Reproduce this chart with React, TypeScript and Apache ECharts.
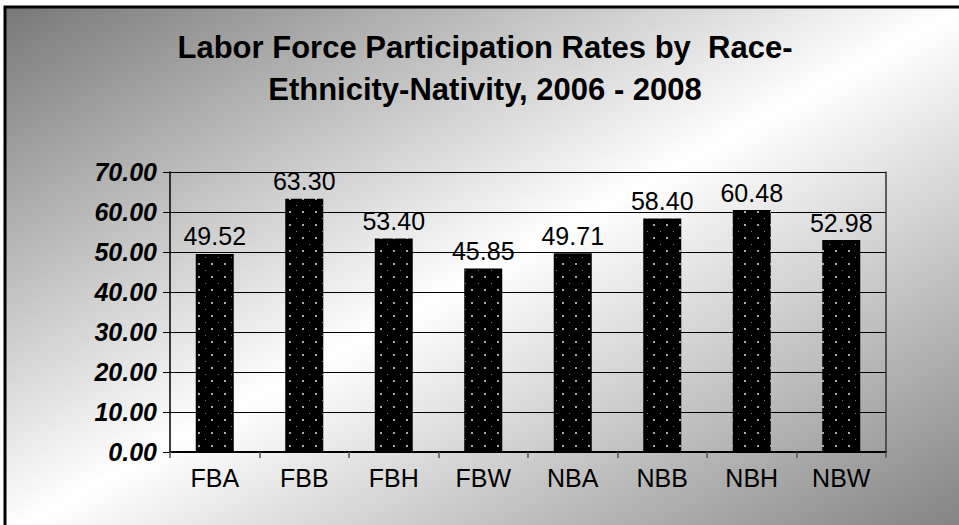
import React, { useEffect, useRef } from "react";
import * as echarts from "echarts";

const categories = ["FBA", "FBB", "FBH", "FBW", "NBA", "NBB", "NBH", "NBW"];
const rates = [49.52, 63.3, 53.4, 45.85, 49.71, 58.4, 60.48, 52.98];
const yTicks = { min: 0, max: 70, interval: 10 };
const titleLines = ["Labor Force Participation Rates by  Race-", "Ethnicity-Nativity, 2006 - 2008"];

const FONT = "'Liberation Sans', Arial, Helvetica, sans-serif";

// Dotted black fill used for the bars
function makeDotPattern(): HTMLCanvasElement {
  const c = document.createElement("canvas");
  c.width = 13;
  c.height = 13;
  const ctx = c.getContext("2d")!;
  ctx.fillStyle = "#000";
  ctx.fillRect(0, 0, 13, 13);
  ctx.fillStyle = "#a8a8a8";
  ctx.fillRect(3, 3, 2, 2);
  ctx.fillStyle = "#808080";
  ctx.fillRect(10, 10, 1, 1);
  return c;
}

export default function App() {
  const ref = useRef<HTMLDivElement>(null);

  useEffect(() => {
    if (!ref.current) return;
    const chart = echarts.init(ref.current, null, { renderer: "svg" });
    const pattern = makeDotPattern();

    chart.setOption({
      animation: false,
      backgroundColor: "#ffffff",
      graphic: [
        {
          type: "rect",
          z: -100,
          silent: true,
          shape: { x: 5, y: 7, width: 962, height: 528 },
          style: {
            fill: new echarts.graphic.LinearGradient(0, 0, 1, 1, [
              { offset: 0, color: "#787878" },
              { offset: 0.5, color: "#ffffff" },
              { offset: 1, color: "#808080" },
            ]),
            stroke: "#000",
            lineWidth: 3,
          },
        },
        {
          type: "text",
          x: 485,
          y: 26,
          z: 10,
          style: {
            text: titleLines.join("\n"),
            textAlign: "center",
            textVerticalAlign: "top",
            font: `bold 31px ${FONT}`,
            lineHeight: 42,
            fill: "#000",
          },
        },
      ],
      grid: { left: 170, right: 73, top: 172, bottom: 73, containLabel: false },
      xAxis: {
        type: "category",
        data: categories,
        axisLine: { show: true, lineStyle: { color: "#000", width: 2 } },
        axisTick: { show: true, length: 6, lineStyle: { color: "#555", width: 1.5 } },
        axisLabel: { color: "#000", fontFamily: FONT, fontSize: 25, margin: 13 },
        splitLine: { show: false },
      },
      yAxis: [
        {
          type: "value",
          min: yTicks.min,
          max: yTicks.max,
          interval: yTicks.interval,
          axisLine: { show: true, lineStyle: { color: "#000", width: 1.5 } },
          axisTick: { show: true, length: 7, lineStyle: { color: "#000" } },
          axisLabel: {
            color: "#000",
            fontFamily: FONT,
            fontSize: 25,
            fontWeight: "bold",
            fontStyle: "italic",
            margin: 13,
            formatter: (v: number) => v.toFixed(2),
          },
          splitLine: { show: true, lineStyle: { color: "#000", width: 1 } },
        },
        {
          type: "value",
          position: "right",
          min: yTicks.min,
          max: yTicks.max,
          interval: yTicks.interval,
          axisLine: { show: true, lineStyle: { color: "#333", width: 1.5 } },
          axisTick: { show: false },
          axisLabel: { show: false },
          splitLine: { show: false },
        },
      ],
      series: [
        {
          type: "bar",
          data: rates,
          barWidth: 38,
          itemStyle: { color: { image: pattern, repeat: "repeat" } },
          label: {
            show: true,
            position: "top",
            distance: 5,
            color: "#000",
            fontFamily: FONT,
            fontSize: 25,
            formatter: (p: any) => Number(p.value).toFixed(2),
          },
        },
      ],
    });

    return () => chart.dispose();
  }, []);

  return (
    <div
      ref={ref}
      style={{ position: "absolute", left: 0, top: 0, width: 959, height: 525 }}
    />
  );
}
